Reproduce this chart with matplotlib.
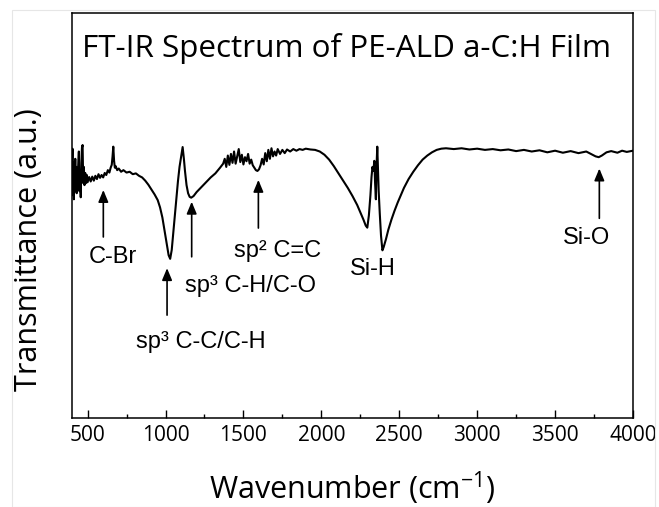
import numpy as np
import matplotlib
matplotlib.use("Agg")
import matplotlib.pyplot as plt
from matplotlib.patches import Rectangle

# spectrum (wavenumber in cm-1, transmittance in a.u.)
wavenumber = [
    400, 403, 406, 409, 412, 415, 418, 421, 424, 427, 430, 433, 436, 440, 444, 448,
    452, 456, 460, 464, 468, 472, 476, 480, 485, 490, 495, 500, 510, 520, 530, 540,
    550, 560, 570, 580, 590, 600, 610, 620, 630, 640, 648, 655, 660, 665, 670, 675,
    680, 690, 700, 715, 730, 750, 770, 790, 810, 830, 850, 870, 890, 910, 930, 950,
    965, 980, 995, 1010, 1020, 1030, 1040, 1050, 1060, 1070, 1080, 1090, 1100, 1110,
    1118, 1125, 1135, 1145, 1155, 1165, 1180, 1200, 1230, 1260, 1290, 1320, 1350, 1370,
    1380, 1390, 1400, 1410, 1420, 1430, 1440, 1450, 1460, 1470, 1480, 1490, 1500, 1510,
    1520, 1530, 1540, 1550, 1560, 1570, 1580, 1590, 1600, 1610, 1620, 1630, 1640, 1650,
    1660, 1670, 1680, 1690, 1700, 1710, 1720, 1735, 1750, 1765, 1780, 1800, 1820, 1840,
    1860, 1880, 1900, 1930, 1960, 1990, 2020, 2050, 2080, 2110, 2140, 2170, 2200, 2230,
    2250, 2270, 2285, 2295, 2305, 2315, 2322, 2328, 2334, 2340, 2345, 2350, 2354, 2359,
    2363, 2368, 2375, 2383, 2392, 2400, 2415, 2430, 2450, 2470, 2490, 2510, 2530, 2560,
    2590, 2620, 2650, 2680, 2710, 2740, 2770, 2800, 2850, 2900, 2950, 3000, 3050, 3100,
    3150, 3200, 3250, 3300, 3350, 3400, 3450, 3500, 3550, 3600, 3650, 3700, 3730, 3760,
    3780, 3800, 3830, 3860, 3900, 3930, 3960, 4000,
]
transmittance = [
    60.0, 66.5, 55.0, 63.0, 54.0, 61.0, 58.0, 64.0, 56.0, 62.0, 55.5, 60.0, 57.0, 62.5, 65.8, 56.0,
    61.0, 54.5, 63.0, 66.8, 67.4, 58.0, 62.0, 57.5, 60.5, 58.0, 60.0, 58.2, 59.5, 58.4, 59.6, 58.6,
    59.8, 59.0, 60.2, 59.3, 60.0, 59.4, 60.5, 60.0, 61.2, 60.6, 61.8, 62.5, 64.5, 67.0, 63.5, 61.8,
    62.2, 61.2, 61.6, 60.8, 61.2, 60.6, 60.8, 60.2, 60.4, 59.8, 59.4, 58.6, 57.6, 56.4, 55.2, 53.8,
    52.0, 49.5, 46.0, 42.5, 40.2, 39.3, 41.5, 45.8, 50.0, 54.5, 58.5, 62.0, 64.5, 66.9,
    64.0, 61.0, 57.5, 55.5, 54.6, 54.4, 54.8, 55.8, 57.0, 58.2, 59.4, 60.4, 61.8, 62.8,
    64.0, 62.0, 64.8, 62.5, 65.2, 63.0, 65.8, 62.8, 64.6, 66.4, 63.2, 65.0, 62.6, 64.4,
    63.4, 65.2, 62.8, 63.8, 62.4, 61.8, 61.2, 61.0, 61.4, 62.4, 64.0, 62.6, 65.4, 63.4,
    66.2, 64.0, 66.6, 64.6, 65.8, 64.8, 66.4, 65.2, 66.2, 65.4, 66.3, 65.8, 66.4, 66.0,
    66.4, 66.2, 66.5, 66.3, 66.2, 65.8, 65.0, 63.8, 62.2, 60.4, 58.6, 56.8, 54.8, 52.6,
    50.8, 49.0, 47.5, 47.0, 50.0, 55.0, 59.5, 62.0, 61.0, 63.5, 58.0, 54.0, 62.0, 67.0,
    62.0, 56.0, 50.5, 45.0, 41.4, 42.2, 44.2, 46.5, 49.0, 51.2, 53.2, 55.0, 56.8, 59.0,
    60.8, 62.4, 63.8, 64.8, 65.6, 66.2, 66.5, 66.6, 66.4, 66.6, 66.3, 66.5, 66.2, 66.4,
    66.1, 66.3, 65.9, 66.2, 65.8, 66.1, 65.6, 66.0, 65.5, 65.9, 65.4, 65.8, 65.2, 64.6,
    64.4, 64.8, 65.6, 65.9, 65.5, 66.0, 65.7, 66.0,
]

# band labels
band_labels = ["C-Br", "sp\u00b3 C-C/C-H", "sp\u00b3 C-H/C-O", "sp\u00b2 C=C", "Si-H", "Si-O"]
band_positions = [601, 1010, 1168, 1596, None, 3784]

xticks = [500, 1000, 1500, 2000, 2500, 3000, 3500, 4000]

plt.rcParams["font.family"] = ["Open Sans", "DejaVu Sans"]
plt.rcParams["mathtext.fontset"] = "custom"
plt.rcParams["mathtext.rm"] = "Open Sans"
plt.rcParams["mathtext.it"] = "Open Sans:italic"

fig = plt.figure(figsize=(6.59, 5.07), dpi=100)
fig.patches.append(Rectangle((12 / 659, 0.0), 643 / 659, 1 - 10 / 507, transform=fig.transFigure,
                             fill=False, edgecolor="#e6e6e6", lw=0.8))
ax = fig.add_axes([72 / 659, 1 - 418 / 507, 561 / 659, 405 / 507])

ax.plot(wavenumber, transmittance, color="black", lw=1.5)
ax.set_xlim(400, 4000)
ax.set_ylim(0, 100)

ax.set_xticks(xticks)
ax.set_xticks(np.arange(750, 4000, 500), minor=True)
ax.tick_params(axis="x", which="major", direction="in", length=6, width=1, labelsize=15, pad=5)
ax.tick_params(axis="x", which="minor", direction="in", length=3, width=1)
ax.set_yticks([])
for s in ax.spines.values():
    s.set_linewidth(1.1)

ax.set_xlabel("Wavenumber (cm$^{-1}$)", fontsize=22, labelpad=17)
ax.set_ylabel("Transmittance (a.u.)", fontsize=22)
ax.yaxis.set_label_coords(-0.050, 0.415)
ax.text(0.017, 0.891, "FT-IR Spectrum of PE-ALD a-C:H Film", transform=ax.transAxes,
        fontsize=22.6, va="baseline", ha="left")

# arrows: (tip, tail) and label placement
arrow_ends = [(56.3, 44.7), (37.0, 25.4), (53.4, 39.8), (58.8, 46.9), None, (61.6, 49.3)]
text_xy = [(661, 38.3), (1228, 17.2), (1545, 31.2), (1719, 39.8), (2328, 35.3), (3700, 43.0)]
for label, x, ends, (tx, ty) in zip(band_labels, band_positions, arrow_ends, text_xy):
    if ends is not None:
        ax.annotate("", xy=(x, ends[0]), xytext=(x, ends[1]),
                    arrowprops=dict(arrowstyle="-|>,head_length=0.6,head_width=0.25",
                                    color="black", lw=1.2, mutation_scale=12,
                                    shrinkA=0, shrinkB=0))
    ax.text(tx, ty, label, ha="center", va="baseline", fontsize=17,
            family=["Liberation Sans", "DejaVu Sans"])

plt.savefig("out.png", dpi=100)
